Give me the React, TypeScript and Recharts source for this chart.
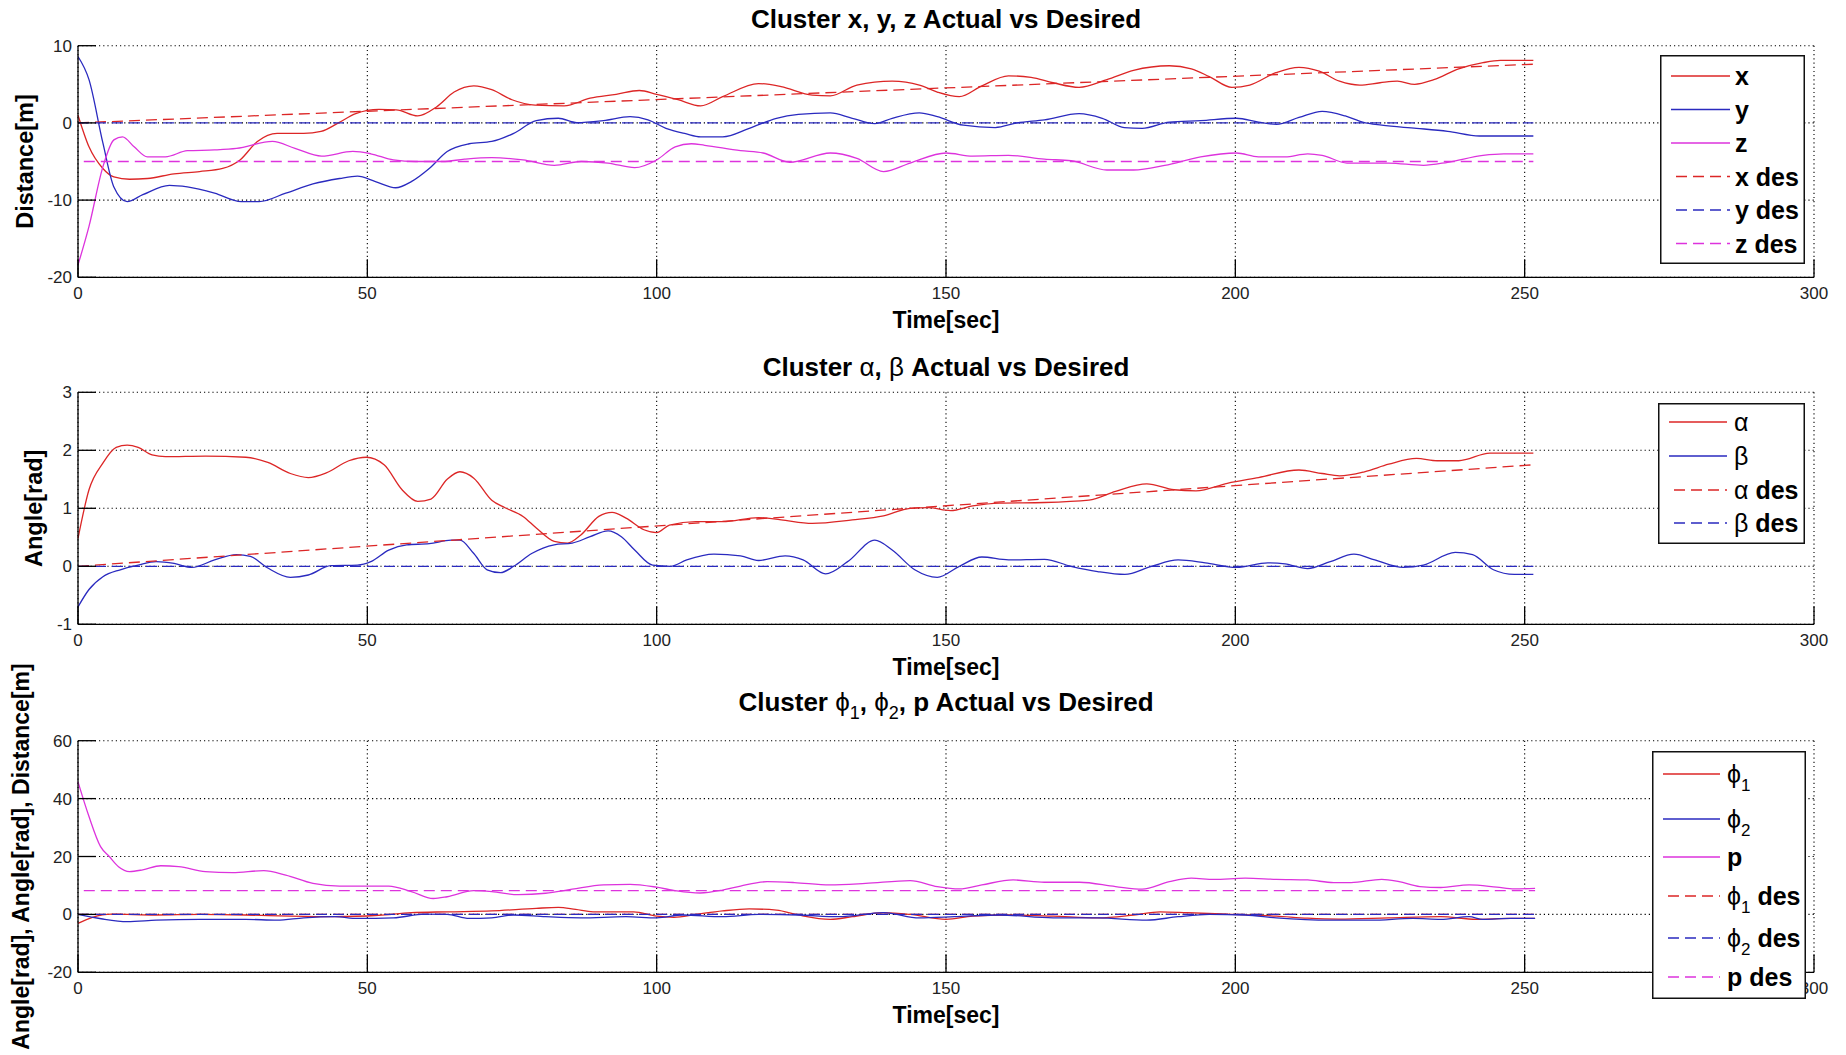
import React from 'react';
import { LineChart, Line, XAxis, YAxis, CartesianGrid, Legend } from 'recharts';

type Pt = [number, number];

// ---------- ticks ----------
const timeTicks = [0, 50, 100, 150, 200, 250, 300];
const xyzTicks = [-20, -10, 0, 10];
const angleTicks = [-1, 0, 1, 2, 3];
const phiTicks = [-20, 0, 20, 40, 60];

// ---------- panel 1 : x, y, z ----------
const xActual: Pt[] = [[0,1.0],[1.9,-3.1],[4.3,-5.9],[6.2,-7.0],[8.9,-7.3],[12,-7.2],[16.6,-6.6],[21,-6.3],[25,-5.9],[28,-4.8],[31,-2.4],[34.4,-1.35],[39,-1.35],[42,-1.1],[45,0],[48,1.2],[52,1.75],[55,1.7],[58.7,0.9],[62,2.1],[65,4.0],[68.4,4.8],[71.5,4.3],[75,3.0],[79,2.3],[84,2.2],[88.5,3.2],[93,3.7],[97,4.2],[100,3.7],[103.7,3.0],[107.6,2.2],[111.4,3.4],[117.6,5.1],[121.5,4.7],[126.9,3.6],[130,3.5],[134.6,4.9],[140.7,5.4],[145.4,4.9],[148.5,4.0],[152.3,3.4],[156.2,4.8],[160.8,6.1],[164.7,5.9],[168.5,5.2],[173,4.6],[177.8,5.6],[182.4,6.8],[188.6,7.4],[192.4,7.0],[195.5,6.0],[199.4,4.6],[202.5,4.9],[207,6.5],[211,7.2],[214.5,6.7],[218,5.4],[221.5,4.9],[225,5.2],[228,5.4],[231,5.0],[234.3,5.6],[238.6,7.0],[242.8,7.8],[245.8,8.1],[251.5,8.1]];
const yActual: Pt[] = [[0,8.6],[1.9,5.6],[4.3,-2.6],[6.2,-8.3],[8.5,-10.2],[11.2,-9.3],[15.8,-8.1],[18.9,-8.3],[23.6,-9.1],[28.2,-10.2],[31.3,-10.2],[35.9,-9.1],[40.6,-7.9],[45.2,-7.2],[48.3,-6.9],[51.4,-7.6],[54.9,-8.4],[57.6,-7.6],[60.7,-5.9],[63.8,-3.7],[67.6,-2.7],[71.5,-2.4],[75.3,-1.35],[79.2,0.3],[83,0.6],[86.2,0.03],[90.8,0.3],[95.4,0.8],[98.5,0.4],[101.6,-0.7],[105,-1.4],[107.6,-1.8],[111.4,-1.8],[116,-0.7],[120.7,0.6],[124.5,1.1],[130,1.3],[133.8,0.6],[137.7,-0.1],[140.7,0.6],[145.4,1.3],[148.5,0.8],[153,-0.3],[158.5,-0.6],[162.3,0],[167,0.4],[173,1.2],[177,0.6],[180.8,-0.6],[183.9,-0.7],[188.6,0.1],[194,0.3],[200.2,0.6],[204,0.1],[207.1,-0.2],[211,0.7],[215,1.5],[219,0.9],[222,0.1],[225.3,-0.3],[231.3,-0.7],[236.7,-1.1],[242.2,-1.7],[251.5,-1.7]];
const zActual: Pt[] = [[0,-18.4],[1.9,-13.4],[4.3,-5.7],[6.2,-2.2],[7.7,-1.8],[9.7,-3.1],[12,-4.4],[15.1,-4.4],[18.9,-3.6],[23.6,-3.5],[27.4,-3.3],[33.6,-2.4],[37.5,-3.3],[42.1,-4.3],[47.5,-3.7],[50.6,-4.0],[54.5,-4.8],[58.3,-5.0],[63,-5.0],[66.8,-4.7],[71.5,-4.5],[76.9,-4.8],[82.3,-5.5],[87,-5.0],[91.6,-5.2],[96.2,-5.8],[100,-4.8],[103.2,-3.1],[106,-2.7],[108.3,-2.9],[114.5,-3.6],[118.4,-3.9],[123,-5.1],[130,-3.9],[134.6,-4.6],[139.2,-6.3],[143.8,-5.2],[150,-3.9],[154.6,-4.3],[160.8,-4.2],[167,-4.7],[171.6,-4.9],[177.8,-6.1],[182.4,-6.1],[187.8,-5.5],[194,-4.4],[200.2,-3.9],[204,-4.4],[208.6,-4.4],[212.5,-4.0],[215,-4.2],[219.3,-5.2],[226.5,-5.2],[232.5,-5.5],[236.7,-5.1],[242.8,-4.2],[246.4,-4.0],[251.5,-4.0]];
const xDesired: Pt[] = [[0,0],[251.5,7.6]];
const yDesired: Pt[] = [[0,0],[251.5,0]];
const zDesired: Pt[] = [[1,-5],[251.5,-5]];

// ---------- panel 2 : alpha, beta ----------
const alphaActual: Pt[] = [[0,0.48],[1.9,1.32],[4.3,1.78],[6.6,2.05],[8.5,2.09],[10.4,2.05],[12.8,1.92],[15.1,1.89],[22,1.9],[29,1.88],[32.8,1.79],[36.7,1.6],[39.8,1.53],[42.9,1.61],[46.8,1.82],[49.8,1.88],[52.9,1.75],[56,1.32],[58.7,1.12],[61,1.16],[63.8,1.5],[66,1.63],[68.4,1.52],[71.5,1.14],[73.8,1.01],[76.9,0.86],[79.2,0.66],[82.3,0.43],[84.6,0.4],[86.9,0.54],[90,0.86],[92.3,0.93],[94.7,0.83],[97.8,0.63],[100,0.58],[102.2,0.71],[106.8,0.77],[111.4,0.77],[117.6,0.84],[121.5,0.8],[126.9,0.74],[133.8,0.8],[139.2,0.87],[143.8,1.0],[146.9,1.01],[150.8,0.96],[154.6,1.04],[159.3,1.09],[167,1.1],[174.7,1.14],[179.3,1.29],[184.7,1.42],[189.4,1.32],[193.2,1.3],[198.6,1.43],[204,1.53],[211,1.66],[215,1.6],[218,1.56],[222.3,1.63],[226.5,1.76],[231.3,1.86],[234.9,1.82],[238.6,1.82],[244,1.95],[251.5,1.95]];
const betaActual: Pt[] = [[0,-0.7],[1.9,-0.4],[4.3,-0.18],[7.3,-0.06],[10.4,0.02],[13.5,0.08],[16.6,0.05],[19.7,-0.02],[23.6,0.11],[27.4,0.2],[29.8,0.17],[32.8,-0.03],[36.7,-0.19],[39.8,-0.15],[43.7,0.01],[48.3,0.02],[50.6,0.08],[53.7,0.28],[56.8,0.37],[60.7,0.39],[64.5,0.45],[66,0.45],[68.4,0.22],[70.7,-0.06],[73,-0.11],[75.3,0.0],[78.4,0.22],[82.3,0.37],[85.4,0.4],[88.5,0.51],[91.6,0.61],[93.9,0.51],[96.2,0.28],[99.3,0.02],[102.4,0.0],[105.2,0.11],[109.9,0.21],[114.5,0.18],[117.6,0.1],[122.2,0.18],[125.3,0.11],[129.2,-0.13],[133,0.08],[137.7,0.45],[140.7,0.28],[144.6,-0.06],[148.5,-0.19],[152.3,0.0],[156.2,0.16],[160.8,0.11],[167,0.12],[171.6,0.0],[176.2,-0.09],[180.9,-0.14],[185.5,0.0],[190.1,0.11],[194.8,0.06],[200.2,-0.02],[205.6,0.06],[208.6,0.04],[212.5,-0.04],[216.4,0.08],[220.5,0.21],[224.1,0.11],[229,-0.02],[232.5,0.02],[238,0.24],[241,0.2],[244.6,-0.06],[248.2,-0.14],[251.5,-0.14]];
const alphaDesired: Pt[] = [[0,0],[251.5,1.75]];
const betaDesired: Pt[] = [[0,0],[251.5,0]];

// ---------- panel 3 : phi1, phi2, p ----------
const phi1Actual: Pt[] = [[0,-3.1],[2.5,-1.0],[5.8,0.1],[13.5,-0.2],[21,0],[29,-0.2],[36.7,-0.6],[44.4,-0.8],[52,-0.3],[57.6,0.6],[63.8,0.9],[71.5,1.2],[79.2,2.1],[83,2.4],[86,1.7],[89,0.9],[96,0.9],[100,-0.6],[103,-1.0],[106.8,0],[111.4,1.2],[116,1.9],[120.7,1.5],[124.5,-0.2],[130,-1.7],[133.8,-0.8],[139.2,0.6],[143.8,0],[150,-1.7],[154.6,-0.6],[160.8,-0.2],[168.5,-0.6],[176.2,-1.2],[182.4,-0.2],[187,0.9],[191.7,0.6],[199.4,0],[207.1,-0.6],[212.5,-1.3],[217.9,-1.6],[226.5,-1.2],[235.5,-0.8],[241.6,-1.7],[247.6,-1.4],[251.8,-1.4]];
const phi2Actual: Pt[] = [[0,0],[4,-1.5],[8.5,-2.5],[13.5,-2.0],[21,-1.7],[29,-1.7],[34.4,-2.0],[39,-1.2],[44.4,-0.8],[48.3,-1.4],[54.5,-1.2],[59.9,0.1],[63.8,0],[67.6,-1.4],[71.5,-1.2],[75.3,-0.2],[80.8,-0.8],[86.9,-1.2],[94.7,-0.8],[100,-1.2],[104.5,-0.2],[111.4,-0.8],[117.6,0],[124.5,-0.2],[131.5,-0.8],[139.2,0.6],[145.4,-1.2],[151.5,-0.8],[159.3,-0.2],[168.5,-1.2],[176.2,-1.2],[184.7,-2.0],[190.1,-0.8],[195.5,0],[201.7,-0.2],[207.1,-1.2],[216.4,-2.0],[223.5,-2.0],[230.7,-1.4],[235.5,-1.7],[240.4,-0.8],[242.8,-1.7],[247.6,-1.4],[251.8,-1.4]];
const pActual: Pt[] = [[0,45.8],[1.9,33.8],[3.9,23.4],[5.4,20],[7,16.5],[8.9,14.8],[11.2,15.4],[14.3,16.8],[17.4,16.5],[22,14.8],[26.7,14.4],[32.1,15.1],[35.9,13.6],[40.6,10.7],[45.2,9.8],[53.7,9.8],[57.6,7.9],[61.4,5.5],[63.8,6.1],[68.4,8.2],[71.5,7.9],[76.1,6.8],[80.8,7.3],[85.4,8.7],[90.8,10.2],[95.4,10.4],[100,9.4],[103.5,8.1],[107.5,7.4],[111.4,8.4],[114.5,9.8],[119.1,11.3],[123.8,11.0],[129.9,10.2],[136.1,10.7],[143.8,11.7],[148.5,9.6],[152.3,8.8],[156.2,10.2],[161.6,11.9],[167,11.1],[173.1,11.1],[179.3,9.6],[183.9,8.7],[188.6,11.3],[192.4,12.5],[196.3,12.1],[201.7,12.5],[207.1,12.1],[212.5,11.9],[217,11.0],[220,11.0],[225.3,12.1],[228.3,11.3],[231.9,9.6],[235.5,9.3],[240.4,10.2],[245.2,9.4],[248.2,8.8],[251.8,9.0]];
const phi1Desired: Pt[] = [[0,0],[251.8,0]];
const phi2Desired: Pt[] = [[0,0],[251.8,0]];
const pDesired: Pt[] = [[1,8.2],[251.8,8.2]];

// ---------- styling ----------
const RED = '#dc2626';
const BLUE = '#2a2abf';
const MAG = '#dd33dd';
const FONT = '"Liberation Sans", Arial, Helvetica, sans-serif';
const W = 1846;
const PLOT_LEFT = 78;
const PLOT_RIGHT = 1814;

interface Seg { t: string; b?: boolean; sub?: boolean }
interface SeriesDef { name: string; pts: Pt[]; color: string; dashed?: boolean; label: Seg[] }
interface LegendBox { x: number; y: number; w: number; h: number; lx1: number; lx2: number; dx1: number; tx: number; rows: number[] }

const toRows = (pts: Pt[]) => pts.map(([t, v]) => ({ t, v }));

function segs(list: Seg[], subSize: number, subShift: number) {
  let down = false;
  return list.map((s, i) => {
    let dy: number | undefined;
    if (s.sub && !down) { dy = subShift; down = true; }
    else if (!s.sub && down) { dy = -subShift; down = false; }
    return (
      <tspan key={i} dy={dy} fontWeight={s.b ? 'bold' : 'normal'} fontSize={s.sub ? subSize : undefined}>
        {s.t}
      </tspan>
    );
  });
}

const series1: SeriesDef[] = [
  { name: 'x', pts: xActual, color: RED, label: [{ t: 'x', b: true }] },
  { name: 'y', pts: yActual, color: BLUE, label: [{ t: 'y', b: true }] },
  { name: 'z', pts: zActual, color: MAG, label: [{ t: 'z', b: true }] },
  { name: 'x des', pts: xDesired, color: RED, dashed: true, label: [{ t: 'x des', b: true }] },
  { name: 'y des', pts: yDesired, color: BLUE, dashed: true, label: [{ t: 'y des', b: true }] },
  { name: 'z des', pts: zDesired, color: MAG, dashed: true, label: [{ t: 'z des', b: true }] },
];
const series2: SeriesDef[] = [
  { name: 'alpha', pts: alphaActual, color: RED, label: [{ t: 'α' }] },
  { name: 'beta', pts: betaActual, color: BLUE, label: [{ t: 'β' }] },
  { name: 'alpha des', pts: alphaDesired, color: RED, dashed: true, label: [{ t: 'α' }, { t: ' des', b: true }] },
  { name: 'beta des', pts: betaDesired, color: BLUE, dashed: true, label: [{ t: 'β' }, { t: ' des', b: true }] },
];
const series3: SeriesDef[] = [
  { name: 'phi1', pts: phi1Actual, color: RED, label: [{ t: 'ϕ' }, { t: '1', sub: true }] },
  { name: 'phi2', pts: phi2Actual, color: BLUE, label: [{ t: 'ϕ' }, { t: '2', sub: true }] },
  { name: 'p', pts: pActual, color: MAG, label: [{ t: 'p', b: true }] },
  { name: 'phi1 des', pts: phi1Desired, color: RED, dashed: true, label: [{ t: 'ϕ' }, { t: '1', sub: true }, { t: ' des', b: true }] },
  { name: 'phi2 des', pts: phi2Desired, color: BLUE, dashed: true, label: [{ t: 'ϕ' }, { t: '2', sub: true }, { t: ' des', b: true }] },
  { name: 'p des', pts: pDesired, color: MAG, dashed: true, label: [{ t: 'p des', b: true }] },
];

const title1: Seg[] = [{ t: 'Cluster x, y, z Actual vs Desired', b: true }];
const title2: Seg[] = [{ t: 'Cluster ', b: true }, { t: 'α' }, { t: ', ', b: true }, { t: 'β' }, { t: ' Actual vs Desired', b: true }];
const title3: Seg[] = [{ t: 'Cluster ', b: true }, { t: 'ϕ' }, { t: '1', sub: true }, { t: ', ', b: true }, { t: 'ϕ' }, { t: '2', sub: true }, { t: ', p Actual vs Desired', b: true }];

interface PanelProps {
  top: number; height: number; plotTop: number; plotBottom: number;
  domain: [number, number]; ticks: number[]; series: SeriesDef[];
  yLabel: string; yLabelX: number; yLabelSize: number; legend: LegendBox;
}

function Panel(p: PanelProps) {
  const mt = p.plotTop - p.top;
  const mb = p.height - (p.plotBottom - p.top) - 30;
  const lg = p.legend;
  const localBottom = p.plotBottom - p.top;
  const localMidY = (p.plotTop + p.plotBottom) / 2 - p.top;

  const legendContent = () => (
    <svg width={lg.w} height={lg.h} style={{ display: 'block' }}>
      <rect x={0.75} y={0.75} width={lg.w - 1.5} height={lg.h - 1.5} fill="#fff" stroke="#111" strokeWidth={1.5} />
      {p.series.map((s, i) => {
        const ry = lg.rows[i] - lg.y;
        return (
          <g key={s.name}>
            <line x1={(s.dashed ? lg.dx1 : lg.lx1) - lg.x} x2={lg.lx2 - lg.x} y1={ry} y2={ry}
              stroke={s.color} strokeWidth={1.3} strokeDasharray={s.dashed ? '11 6' : undefined} />
            <text x={lg.tx - lg.x} y={ry + 9} fontSize={25} fontFamily={FONT} fill="#000" style={{ whiteSpace: 'pre' }}>
              {segs(s.label, 17, 8)}
            </text>
          </g>
        );
      })}
    </svg>
  );

  const xLabel = (props: any) => {
    const vb = props && props.viewBox;
    const cx = vb && typeof vb.x === 'number' ? vb.x + vb.width / 2 : (PLOT_LEFT + PLOT_RIGHT) / 2;
    return (
      <text x={cx} y={localBottom + 51} textAnchor="middle" fontSize={23} fontWeight="bold" fontFamily={FONT} fill="#000">
        Time[sec]
      </text>
    );
  };
  const yLabel = (props: any) => {
    const vb = props && props.viewBox;
    const cy = vb && typeof vb.y === 'number' && vb.height ? vb.y + vb.height / 2 : localMidY;
    return (
      <text x={p.yLabelX} y={cy} transform={`rotate(-90 ${p.yLabelX} ${cy})`} textAnchor="middle"
        dominantBaseline="central" fontSize={p.yLabelSize} fontWeight="bold" fontFamily={FONT} fill="#000">
        {p.yLabel}
      </text>
    );
  };

  const tickStyle = { fill: '#222', fontSize: 17, fontFamily: FONT };

  return (
    <div style={{ position: 'absolute', left: 0, top: p.top, width: W, height: p.height }}>
      <LineChart width={W} height={p.height} margin={{ top: mt, right: W - PLOT_RIGHT, bottom: mb, left: PLOT_LEFT - 60 }}>
        <CartesianGrid stroke="#000" strokeDasharray="1.2 3" strokeWidth={1.1} />
        <XAxis type="number" dataKey="t" domain={[0, 300]} ticks={timeTicks} interval={0} height={30}
          tickSize={-18} tickMargin={28} stroke="#000" strokeWidth={1.3} tick={tickStyle}
          tickLine={{ stroke: '#000', strokeWidth: 1.3 }} label={{ content: xLabel }} />
        <YAxis type="number" domain={p.domain} ticks={p.ticks} interval={0} width={60}
          tickSize={-18} tickMargin={24} stroke="#000" strokeWidth={1.3} tick={tickStyle}
          tickLine={{ stroke: '#000', strokeWidth: 1.3 }} label={{ content: yLabel }} />
        {p.series.map((s) => (
          <Line key={s.name} name={s.name} data={toRows(s.pts)} dataKey="v" stroke={s.color}
            strokeWidth={1.3} strokeDasharray={s.dashed ? '11 6' : undefined}
            type={s.dashed ? 'linear' : 'monotone'} dot={false} activeDot={false} isAnimationActive={false} />
        ))}
        <Legend layout="vertical" align="center" verticalAlign="middle"
          wrapperStyle={{ left: lg.x, top: lg.y - p.top, width: lg.w, height: lg.h, margin: 0, padding: 0 }}
          content={legendContent} />
      </LineChart>
    </div>
  );
}

function Title({ y, list }: { y: number; list: Seg[] }) {
  return (
    <text x={(PLOT_LEFT + PLOT_RIGHT) / 2} y={y} textAnchor="middle" fontSize={26} fontFamily={FONT} fill="#000" style={{ whiteSpace: 'pre' }}>
      {segs(list, 18, 8)}
    </text>
  );
}

export default function App() {
  return (
    <div style={{ position: 'absolute', left: 0, top: 0, width: W, height: 1055, background: '#fff', overflow: 'hidden' }}>
      <svg width={W} height={1055} style={{ position: 'absolute', left: 0, top: 0, pointerEvents: 'none' }}>
        <Title y={28} list={title1} />
        <Title y={376} list={title2} />
        <Title y={710.5} list={title3} />
      </svg>
      <Panel top={0} height={345} plotTop={45.7} plotBottom={277.3} domain={[-20, 10]} ticks={xyzTicks}
        series={series1} yLabel="Distance[m]" yLabelX={24.5} yLabelSize={23.5}
        legend={{ x: 1660, y: 55, w: 145, h: 209, lx1: 1671, lx2: 1730, dx1: 1676, tx: 1735, rows: [76, 109.5, 143, 176.5, 210, 243.5] }} />
      <Panel top={345} height={345} plotTop={392.3} plotBottom={624.3} domain={[-1, 3]} ticks={angleTicks}
        series={series2} yLabel="Angle[rad]" yLabelX={34} yLabelSize={23.5}
        legend={{ x: 1658, y: 403, w: 147, h: 141, lx1: 1669, lx2: 1727, dx1: 1674, tx: 1734, rows: [422, 456, 490, 523] }} />
      <Panel top={645} height={410} plotTop={740.7} plotBottom={972.3} domain={[-20, 60]} ticks={phiTicks}
        series={series3} yLabel="Angle[rad], Angle[rad], Distance[m]" yLabelX={21} yLabelSize={23}
        legend={{ x: 1652, y: 751, w: 154, h: 248, lx1: 1663, lx2: 1720, dx1: 1668, tx: 1727, rows: [774, 819, 857, 896, 938, 977] }} />
    </div>
  );
}
